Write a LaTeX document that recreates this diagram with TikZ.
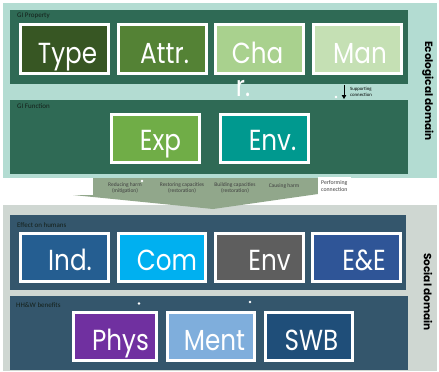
\documentclass[tikz,border=0pt]{standalone}
\usepackage{fontspec}
\setmainfont{Carlito}
\newfontfamily\bigfont[FakeStretch=0.85]{Poppins}
\newfontfamily\domfont{Poppins}
\usetikzlibrary{arrows.meta}
\definecolor{ecobg}{HTML}{B3DCD2}
\definecolor{ecopanel}{HTML}{2F6A55}
\definecolor{socbg}{HTML}{CFD7D2}
\definecolor{socpanel}{HTML}{34566C}
\definecolor{ctype}{HTML}{375623}
\definecolor{cattr}{HTML}{548235}
\definecolor{ccha}{HTML}{A9D18E}
\definecolor{cman}{HTML}{C5E0B4}
\definecolor{cexp}{HTML}{70AD47}
\definecolor{cenvf}{HTML}{00998F}
\definecolor{cind}{HTML}{255E91}
\definecolor{ccom}{HTML}{00B0F0}
\definecolor{cenvs}{HTML}{5E5E5E}
\definecolor{cee}{HTML}{2F5597}
\definecolor{cphys}{HTML}{7030A0}
\definecolor{cment}{HTML}{7FAEDC}
\definecolor{cswb}{HTML}{1F4E79}
\definecolor{chev}{HTML}{91A78B}
\definecolor{smalltxt}{HTML}{14201A}
\newcommand\wbox[5]{\draw[bx=#5] ({#1+1.5},{#2+1.5}) rectangle ({#3-1.5},{#4-1.5});}
\begin{document}
\begin{tikzpicture}[x=1pt,y=-1pt,
  bx/.style={draw=white, line width=3pt, fill=#1},
  big/.style={font=\bigfont\fontsize{29}{29}\selectfont, text=white, inner sep=0pt, anchor=base},
  panlab/.style={font=\fontsize{7}{7}\selectfont, text=smalltxt, inner sep=0pt, anchor=west},
  chevlab/.style={font=\fontsize{5.5}{6}\selectfont, text=black!75, inner sep=0pt, align=center},
  domlab/.style={font=\domfont\bfseries\fontsize{10.5}{10.5}\selectfont, rotate=-90, inner sep=0pt}]
\useasboundingbox (0,0) rectangle (439,372);
\fill[white] (0,0) rectangle (439,372);
% backgrounds
\fill[ecobg] (3,3) rectangle (437,178);
\fill[socbg] (3,205) rectangle (437,371);
% panels
\fill[ecopanel] (10,10) rectangle (408,84);
\fill[ecopanel] (10,100) rectangle (408,174);
\fill[socpanel] (10,215) rectangle (406,290);
\fill[socpanel] (10,296) rectangle (408,370);
\node[panlab] (lgp) at (17,15.5) {GI Property};
\node[panlab] (lgf) at (17,106.5) {GI Function};
\node[panlab] (leh) at (17,225.5) {Effect on humans};
\node[panlab] (lhw) at (16,305) {HH\&W benefits};
% GI property boxes
\wbox{19}{23}{110}{75}{ctype}
\wbox{117}{23}{208}{75}{cattr}
\wbox{214}{23}{305}{75}{ccha}
\wbox{312}{23}{403}{75}{cman}
\node[big] (type) at (67.5,63) {Type};
\node[big] (attr) at (164.5,63) {Attr.};
\node[big] (cha) at (257.5,63) {Cha};
\node[big] (char) at (243,96) {r.};
\node[big] (man) at (360,63) {Man};
% GI function boxes
\wbox{110}{113}{201}{164}{cexp}
\wbox{219}{113}{310}{164}{cenvf}
\node[big] (exp) at (160.5,150) {Exp};
\node[big] (envf) at (272.5,150) {Env.};
% supporting connection
\coordinate (sa) at (344,85);
\coordinate (sb) at (344,99);
\draw[line width=0.9pt, -{Triangle[length=4pt,width=4.5pt]}] (sa) -- (sb);
\node[font=\fontsize{4.8}{5.8}\selectfont, align=left, inner sep=0pt, anchor=west] (sup) at (350,91.5) {Supporting\\connection};
% chevron
\fill[chev] (93,178) -- (318,178) -- (318,194) -- (213,209) -- (73,195) -- (93,195) -- cycle;
\node[chevlab] (red) at (125,188) {Reducing harm\\(mitigation)};
\node[chevlab] (res) at (182,188) {Restoring capacities\\(restoration)};
\node[chevlab] (bui) at (235,188) {Building capacities\\(restoration)};
\node[chevlab] (cau) at (284,186) {Causing harm};
\fill[white] (318,177) rectangle (351,194);
\node[font=\fontsize{5.8}{7.5}\selectfont, text=black!75, align=left, inner sep=0pt, anchor=west] (perf) at (321,186) {Performing\\connection};
% effect on humans boxes
\wbox{19}{232}{110}{283}{cind}
\wbox{117}{232}{207}{283}{ccom}
\wbox{214}{232}{305}{283}{cenvs}
\wbox{311}{232}{402}{283}{cee}
\node[big] (ind) at (70,270) {Ind.};
\node[big] (com) at (167,270) {Com};
\node[big] (envs) at (269.5,270) {Env};
\node[big] (ee) at (364,270) {E\&E};
% HH&W boxes
\wbox{72}{311}{158}{362}{cphys}
\wbox{166}{311}{256}{362}{cment}
\wbox{264}{311}{354}{362}{cswb}
\node[big] (phys) at (120.5,350) {Phys};
\node[big] (ment) at (214.5,350) {Ment};
\node[big] (swb) at (311.5,350) {SWB};
% stray dots
\fill[white] (336,97) circle (1.3);
\fill[white] (142,181) circle (1.3);
\fill[white] (139,303.5) circle (1.3);
\fill[white] (250,302) circle (1.3);
% domain labels
\node[domlab] (eco) at (428,91) {Ecological domain};
\node[domlab] (soc) at (428,292) {Social domain};
\end{tikzpicture}
\end{document}
